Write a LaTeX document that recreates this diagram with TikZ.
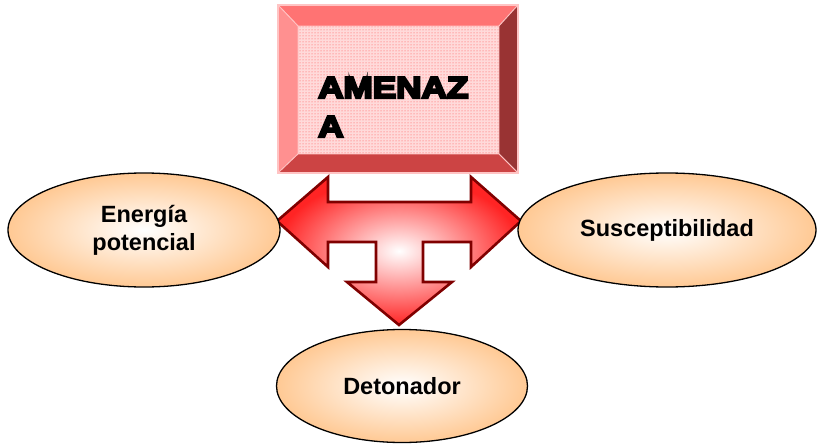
\documentclass[tikz,border=0pt]{standalone}
\usepackage{fontspec}
\setmainfont{Liberation Sans}
\newfontfamily\heavy{Liberation Sans}[BoldFeatures={FakeBold=8,FakeStretch=1.17}]
\usetikzlibrary{shapes.geometric,patterns}
\definecolor{bvtop}{HTML}{FF7373}
\definecolor{bvleft}{HTML}{FF9090}
\definecolor{bvright}{HTML}{993333}
\definecolor{bvbot}{HTML}{CC4444}
\definecolor{bvface}{HTML}{FFDADA}
\definecolor{bvedge}{HTML}{FFC4C4}
\definecolor{peach}{HTML}{FFC994}
\definecolor{arrred}{HTML}{FF2424}
\definecolor{arredge}{HTML}{800000}
\tikzset{
  ell/.style={ellipse, draw=black, line width=1.3pt, inner color=white, outer color=peach,
    font=\bfseries\fontsize{23.5}{28}\selectfont, align=center, inner sep=0pt},
  tarrow/.style={draw=arredge, line width=2.6pt, line join=miter, inner color=white, outer color=arrred},
  bevel/.style={draw=bvedge, line width=0.8pt, line join=round},
}
\begin{document}
\begin{tikzpicture}[x=1pt,y=-1pt]
\useasboundingbox (0,0) rectangle (817,444);
% bevelled box
\fill[bvface] (298,26) rectangle (499,154);
\fill[pattern=dots, pattern color=red!70] (298,26) rectangle (499,154);
\filldraw[bevel, fill=bvtop] (278,5) -- (518,5) -- (499,26) -- (298,26) -- cycle;
\filldraw[bevel, fill=bvleft] (278,5) -- (298,26) -- (298,154) -- (278,173) -- cycle;
\filldraw[bevel, fill=bvright] (518,5) -- (518,173) -- (499,154) -- (499,26) -- cycle;
\filldraw[bevel, fill=bvbot] (278,173) -- (518,173) -- (499,154) -- (298,154) -- cycle;
\draw[bvedge, line width=1.5pt] (278,5) rectangle (518,173);
\node[anchor=base west, align=left, inner sep=0pt,
  font=\heavy\bfseries\fontsize{30}{39}\selectfont] (amenaza) at (318,137) {AMENAZ\\A};
% three-way arrow
\path[tarrow] (277,221) -- (328,177) -- (328,202) -- (471,202) -- (471,177) -- (521,221)
  -- (471,267) -- (471,242) -- (423,242) -- (423,282) -- (452,282) -- (399,325)
  -- (347,282) -- (376,282) -- (376,242) -- (328,242) -- (328,267) -- cycle;
% ellipses
\node[ell, minimum width=272pt, minimum height=114pt] (energia) at (144,230) {Energía\\potencial};
\node[ell, minimum width=298pt, minimum height=114pt] (suscep) at (667,230) {Susceptibilidad};
\node[ell, minimum width=251pt, minimum height=113pt] (deton) at (402,386) {Detonador};
\end{tikzpicture}
\end{document}
